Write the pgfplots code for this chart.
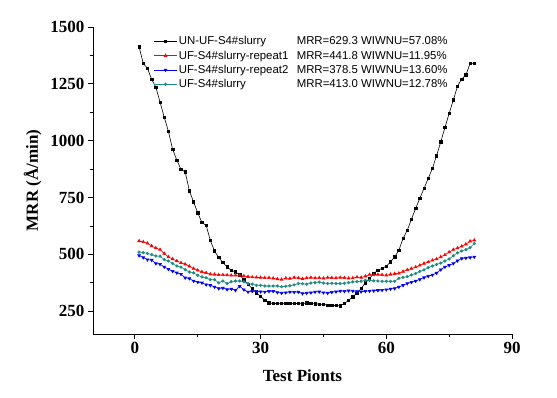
\documentclass[border=0pt]{standalone}
\usepackage{fontspec}
\setmainfont{Liberation Serif}
\newfontfamily\lsans{Liberation Sans}
\usepackage{pgfplots}
\pgfplotsset{compat=1.18}
\definecolor{tealc}{RGB}{30,140,130}
\begin{document}
\begin{tikzpicture}
\begin{axis}[
  scale only axis, width=419pt, height=307pt,
  xmin=-10, xmax=90, ymin=150, ymax=1500,
  axis x line*=bottom, axis y line*=left,
  axis line style={line width=0.9pt},
  xtick={0,30,60,90}, ytick={250,500,750,1000,1250,1500},
  minor x tick num=1, minor y tick num=1,
  tick align=outside, tick style={line width=0.8pt, black},
  major tick length=5pt, minor tick length=3pt,
  /pgf/number format/assume math mode=true,
  /pgf/number format/1000 sep={},
  ticklabel style={font=\bfseries\fontsize{17}{17}\selectfont},
  xlabel={Test Pionts}, ylabel={MRR (Å/min)},
  label style={font=\bfseries\fontsize{17}{17}\selectfont},
  xlabel style={yshift=-9pt},
  ylabel style={yshift=2pt},
  legend style={at={(rel axis cs:0.142,0.978)}, anchor=north west, draw=none, fill=none,
    font=\lsans\fontsize{11.4}{11.4}\selectfont, row sep=1.6pt, inner sep=1pt,
    nodes={inner sep=1.5pt}},
  legend cell align=left,
  legend image code/.code={\draw[mark repeat=2,mark phase=2] plot coordinates {(0pt,0pt)(11.5pt,0pt)(23pt,0pt)};},
  legend image post style={line width=0.6pt},
]
\addplot[black, line width=0.6pt, mark=square*, mark size=1.2pt] coordinates {
(1,1413)(2,1340)(3,1318)(4,1270)(5,1235)(6,1170)(7,1103)(8,1041)(9,962)(10,915)
(11,874)(12,863)(13,780)(14,731)(15,683)(16,640)(17,628)(18,562)(19,515)(20,486)
(21,464)(22,445)(23,430)(24,423)(25,411)(26,389)(27,369)(28,350)(29,330)(30,316)
(31,298)(32,287)(33,284)(34,284)(35,285)(36,285)(37,285)(38,284)(39,284)(40,283)
(41,287)(42,284)(43,283)(44,281)(45,280)(46,277)(47,276)(48,275)(49,274)(50,284)
(51,298)(52,313)(53,330)(54,350)(55,375)(56,394)(57,416)(58,430)(59,438)(60,448)
(61,467)(62,489)(63,518)(64,570)(65,606)(66,655)(67,702)(68,746)(69,790)(70,834)
(71,878)(72,934)(73,995)(74,1058)(75,1120)(76,1179)(77,1240)(78,1271)(79,1289)(80,1340)
(81,1340)};
\addlegendentry{\makebox[118pt][l]{UN-UF-S4\#slurry}MRR=629.3 WIWNU=57.08\%}
\addplot[red, line width=0.6pt, mark=triangle*, mark size=1.6pt] coordinates {
(1,559)(2,555)(3,549)(4,537)(5,528)(6,521)(7,504)(8,489)(9,480)(10,471)
(11,463)(12,457)(13,448)(14,438)(15,430)(16,423)(17,419)(18,413)(19,412)(20,410)
(21,410)(22,409)(23,408)(24,408)(25,408)(26,405)(27,402)(28,400)(29,399)(30,398)
(31,397)(32,397)(33,395)(34,392)(35,390)(36,395)(37,394)(38,398)(39,396)(40,393)
(41,396)(42,398)(43,396)(44,397)(45,395)(46,398)(47,397)(48,396)(49,398)(50,397)
(51,395)(52,396)(53,400)(54,398)(55,404)(56,411)(57,410)(58,411)(59,410)(60,408)
(61,412)(62,415)(63,417)(64,425)(65,432)(66,438)(67,444)(68,452)(69,460)(70,466)
(71,474)(72,480)(73,489)(74,498)(75,510)(76,521)(77,528)(78,536)(79,545)(80,558)
(81,562)};
\addlegendentry{\makebox[118pt][l]{UF-S4\#slurry-repeat1}MRR=441.8 WIWNU=11.95\%}
\addplot[blue, line width=0.6pt, mark=triangle*, mark options={rotate=180}, mark size=1.6pt] coordinates {
(1,495)(2,486)(3,477)(4,475)(5,460)(6,457)(7,445)(8,435)(9,426)(10,419)
(11,413)(12,397)(13,394)(14,383)(15,378)(16,375)(17,367)(18,364)(19,357)(20,350)
(21,352)(22,346)(23,348)(24,342)(25,360)(26,345)(27,335)(28,338)(29,338)(30,336)
(31,335)(32,338)(33,338)(34,333)(35,330)(36,332)(37,335)(38,334)(39,335)(40,328)
(41,330)(42,332)(43,335)(44,336)(45,332)(46,330)(47,334)(48,336)(49,339)(50,338)
(51,340)(52,339)(53,337)(54,336)(55,338)(56,339)(57,340)(58,342)(59,343)(60,345)
(61,348)(62,350)(63,357)(64,364)(65,372)(66,378)(67,383)(68,390)(69,398)(70,404)
(71,410)(72,418)(73,433)(74,445)(75,452)(76,460)(77,472)(78,482)(79,484)(80,486)
(81,489)};
\addlegendentry{\makebox[118pt][l]{UF-S4\#slurry-repeat2}MRR=378.5 WIWNU=13.60\%}
\addplot[tealc, line width=0.6pt, mark=*, mark size=1.3pt] coordinates {
(1,510)(2,508)(3,504)(4,499)(5,493)(6,492)(7,477)(8,471)(9,460)(10,449)
(11,444)(12,433)(13,423)(14,419)(15,408)(16,401)(17,397)(18,389)(19,389)(20,375)
(21,383)(22,372)(23,380)(24,383)(25,383)(26,380)(27,372)(28,369)(29,364)(30,364)
(31,361)(32,361)(33,361)(34,361)(35,358)(36,360)(37,362)(38,366)(39,372)(40,371)
(41,369)(42,374)(43,376)(44,378)(45,374)(46,372)(47,373)(48,372)(49,372)(50,373)
(51,376)(52,379)(53,380)(54,382)(55,386)(56,386)(57,384)(58,383)(59,382)(60,382)
(61,381)(62,382)(63,395)(64,399)(65,402)(66,410)(67,416)(68,425)(69,432)(70,442)
(71,449)(72,456)(73,462)(74,471)(75,480)(76,494)(77,507)(78,515)(79,521)(80,530)
(81,548)};
\addlegendentry{\makebox[118pt][l]{UF-S4\#slurry}MRR=413.0 WIWNU=12.78\%}
\end{axis}
\path (current axis.south west) ++(-93pt,-64pt) coordinate (bl);
\path (current axis.north east) ++(45pt,27pt) coordinate (tr);
\path (bl) rectangle (tr);
\end{tikzpicture}
\end{document}
